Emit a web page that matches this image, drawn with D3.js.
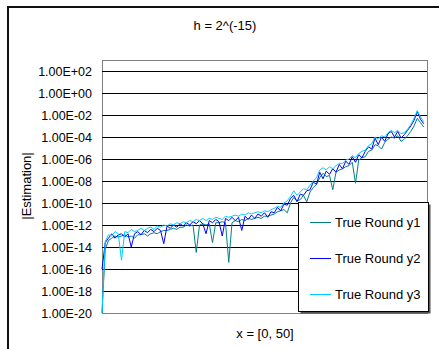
<!DOCTYPE html>
<html lang="en">
<head>
    <meta charset="UTF-8">
    <title>h = 2^(-15)</title>
    <script src="https://d3js.org/d3.v7.min.js"></script>
    <style>
        body { margin: 0; background: #fff; }
        svg { display: block; font-family: "Liberation Sans", Arial, sans-serif; }
        .grid line { stroke: #000; stroke-width: 1; }
        .series { fill: none; stroke-width: 1; }
    </style>
</head>
<body>
    <svg id="chart" width="439" height="349"></svg>
    <script>
        // x positions: 0, 0.5, ... 49.5 on [0, 50]
        const xs = d3.range(100).map(i => i * 0.5);

        const y1 = [1e-20, 6.3e-15, 4e-14, 6.3e-14, 1e-13, 8e-14, 1e-13, 1.3e-13, 8e-14, 1e-13,
            6.3e-14, 1.3e-13, 1.3e-13, 1.6e-13, 1e-13, 1.6e-13, 2e-13, 1.6e-13, 2.5e-13, 3.2e-13,
            3.2e-13, 4e-13, 5e-13, 4e-13, 6.3e-13, 6.3e-13, 1e-12, 8e-13, 1e-12, 3.2e-15,
            1e-12, 1.3e-12, 1e-12, 1.3e-12, 2.5e-14, 1.6e-12, 1.6e-12, 2e-12, 1.6e-12, 4e-16,
            1.6e-12, 2.5e-12, 2e-12, 3.2e-12, 2.5e-12, 4e-12, 3.2e-12, 4e-12, 5e-12, 4e-12,
            6.3e-12, 6.3e-12, 8e-12, 1e-11, 1.6e-11, 2e-11, 2.5e-11, 1.3e-11, 1e-10, 3.2e-10,
            1.6e-10, 2e-10, 5e-10, 1.3e-10, 1e-9, 2.5e-9, 5e-9, 2e-8, 5e-8, 2.5e-8,
            3.2e-8, 1.6e-9, 6.3e-8, 1e-7, 1.3e-7, 2e-7, 2.5e-7, 5e-7, 6.3e-9, 8e-7,
            1.3e-6, 1.6e-6, 5e-6, 6.3e-6, 2e-5, 1.6e-5, 8e-6, 3.2e-5, 6.3e-5, 1e-4,
            8e-5, 1.3e-4, 4e-5, 6.3e-5, 1.3e-4, 3.2e-4, 1e-3, 5e-3, 2e-3, 8e-4];

        const y2 = [1e-16, 2.5e-14, 6.3e-14, 1.6e-13, 6.3e-14, 1.3e-13, 1.6e-13, 8e-14, 1.6e-13, 1e-14,
            1.6e-13, 2.5e-13, 1.3e-13, 3.2e-13, 2e-13, 4e-13, 2.5e-13, 5e-13, 3.2e-13, 2e-14,
            8e-13, 5e-13, 1e-12, 6.3e-13, 1.3e-12, 8e-13, 1.6e-12, 1e-12, 2e-12, 1.3e-12,
            2.5e-12, 1.3e-12, 1.6e-13, 2.5e-12, 1.6e-12, 3.2e-12, 2e-12, 1e-13, 4e-12, 2.5e-12,
            5e-12, 2.5e-12, 5e-12, 3.2e-13, 6.3e-12, 3.2e-12, 8e-12, 4e-12, 1e-11, 6.3e-12,
            1.3e-11, 5e-12, 1.6e-11, 1.3e-11, 4e-11, 2e-11, 8e-11, 6.3e-11, 2.5e-10, 5e-10,
            1.3e-10, 6.3e-10, 5e-10, 1.3e-9, 1.6e-9, 8e-9, 5e-9, 6.3e-8, 1.6e-8, 8e-8,
            4e-8, 1.3e-7, 6.3e-8, 3.2e-7, 1.3e-7, 6.3e-7, 3.2e-7, 1.6e-6, 5e-7, 2.5e-6,
            1.3e-6, 5e-6, 1.3e-5, 8e-6, 8e-5, 2e-5, 1e-4, 4e-5, 2e-4, 3.2e-4,
            1e-4, 3.2e-4, 8e-5, 1.6e-4, 4e-4, 1e-3, 3.2e-3, 2e-2, 4e-3, 1.6e-3];

        const y3 = [1e-20, 3.2e-14, 1.3e-13, 1e-13, 2.5e-13, 1.6e-13, 6.3e-16, 2.5e-13, 2e-13, 4e-13,
            2.5e-13, 3.2e-13, 5e-13, 3.2e-13, 5e-13, 6.3e-13, 4e-13, 8e-13, 6.3e-13, 1e-12,
            8e-13, 1.3e-12, 1e-12, 1.6e-12, 1.3e-12, 2e-12, 1.6e-12, 2.5e-12, 2e-12, 3.2e-12,
            2.5e-12, 4e-12, 2.5e-12, 4e-12, 3.2e-12, 5e-12, 4e-12, 3.2e-12, 6.3e-12, 5e-12,
            6.3e-12, 8e-12, 6.3e-12, 1e-11, 8e-12, 1.3e-11, 1e-11, 1.3e-11, 1.6e-11, 1.3e-11,
            2e-11, 1.6e-11, 2.5e-11, 3.2e-11, 5e-11, 4e-11, 1e-10, 1.6e-10, 4e-10, 1.3e-9,
            5e-10, 1e-9, 2e-9, 1.6e-9, 4e-9, 1e-8, 2e-8, 1e-7, 1.6e-7, 1e-7,
            2e-7, 1.3e-7, 2.5e-7, 4e-7, 4e-7, 8e-7, 1e-6, 2e-6, 1.3e-6, 3.2e-6,
            5e-6, 6.3e-6, 1.6e-5, 2.5e-5, 1e-4, 6.3e-5, 1.3e-4, 1e-4, 2.5e-4, 4e-4,
            2.5e-4, 4e-4, 2e-4, 2.5e-4, 5e-4, 1.3e-3, 5e-3, 2.5e-2, 6.3e-3, 2.5e-3];

        const seriesNames = ["True Round y1", "True Round y2", "True Round y3"];
        const seriesColors = ["#008080", "#0000ff", "#00ccff"];
        const yTicks = [1e2, 1e0, 1e-2, 1e-4, 1e-6, 1e-8, 1e-10, 1e-12, 1e-14, 1e-16, 1e-18, 1e-20];

        const svg = d3.select("#chart");
        const plot = { left: 102, right: 427, top: 60, bottom: 313 };

        const x = d3.scaleLinear().domain([0, 50]).range([plot.left, plot.right]);
        const y = d3.scaleLog().domain([1e-20, 1e3]).range([plot.bottom, plot.top]);

        // chart area frame (runs past the right and bottom edge)
        svg.append("rect")
            .attr("x", 8).attr("y", 7)
            .attr("width", 460).attr("height", 380)
            .attr("fill", "#fff")
            .attr("stroke", "#111")
            .attr("stroke-width", 2);

        // plot area
        svg.append("rect")
            .attr("x", plot.left + 0.5).attr("y", plot.top + 0.5)
            .attr("width", plot.right - plot.left).attr("height", plot.bottom - plot.top)
            .attr("fill", "#fff")
            .attr("stroke", "#808080");

        // gridlines
        svg.append("g").attr("class", "grid")
            .selectAll("line")
            .data(yTicks.slice(0, -1))
            .enter()
            .append("line")
            .attr("x1", plot.left)
            .attr("x2", plot.right)
            .attr("y1", d => Math.round(y(d)) + 0.5)
            .attr("y2", d => Math.round(y(d)) + 0.5);

        // y axis labels
        const fmt = d => {
            const e = Math.round(Math.log10(d));
            return "1.00E" + (e < 0 ? "-" : "+") + String(Math.abs(e)).padStart(2, "0");
        };
        svg.append("g")
            .selectAll("text")
            .data(yTicks)
            .enter()
            .append("text")
            .attr("x", 92)
            .attr("y", d => y(d) + 4.5)
            .attr("text-anchor", "end")
            .attr("font-size", 12.5)
            .text(fmt);

        // series lines
        const line = d3.line()
            .x((d, i) => x(xs[i]))
            .y(d => y(d));

        [y1, y2, y3].forEach((vals, k) => {
            svg.append("path")
                .attr("class", "series")
                .attr("stroke", seriesColors[k])
                .attr("d", line(vals));
        });

        // titles
        svg.append("text")
            .attr("x", 225).attr("y", 30)
            .attr("text-anchor", "middle")
            .attr("font-size", 13)
            .text("h = 2^(-15)");

        svg.append("text")
            .attr("x", 265).attr("y", 338)
            .attr("text-anchor", "middle")
            .attr("font-size", 13)
            .text("x = [0, 50]");

        svg.append("text")
            .attr("transform", "translate(31,186) rotate(-90)")
            .attr("text-anchor", "middle")
            .attr("font-size", 13)
            .text("|Estimation|");

        // legend with a little shadow
        const lg = { x: 298, y: 202, w: 130, h: 109 };
        svg.append("rect")
            .attr("x", lg.x + 2.5).attr("y", lg.y + 2.5)
            .attr("width", lg.w).attr("height", lg.h)
            .attr("fill", "#555");
        svg.append("rect")
            .attr("x", lg.x + 0.5).attr("y", lg.y + 0.5)
            .attr("width", lg.w).attr("height", lg.h)
            .attr("fill", "#fff")
            .attr("stroke", "#000");

        const itemY = [222, 258, 294];
        seriesNames.forEach((name, k) => {
            svg.append("line")
                .attr("x1", 310).attr("x2", 331)
                .attr("y1", itemY[k] + 0.5).attr("y2", itemY[k] + 0.5)
                .attr("stroke", seriesColors[k]);
            svg.append("text")
                .attr("x", 335).attr("y", itemY[k] + 5)
                .attr("font-size", 13)
                .text(name);
        });
    </script>
</body>
</html>
